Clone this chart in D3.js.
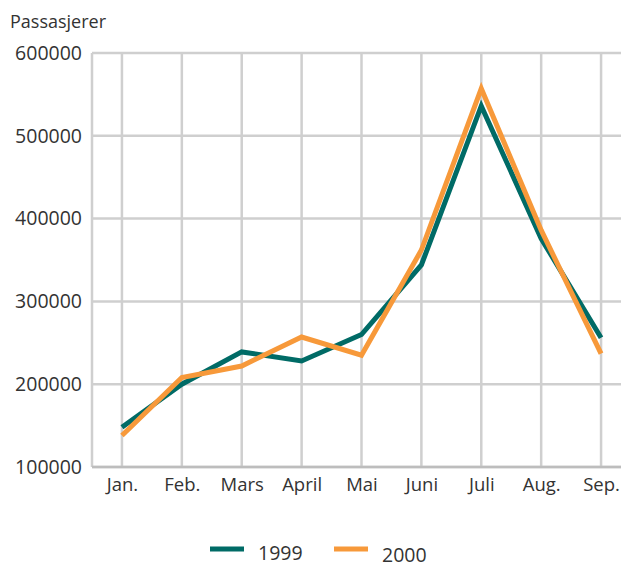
<!DOCTYPE html>
<html>
<head>
<meta charset="utf-8">
<script src="https://d3js.org/d3.v7.min.js"></script>
<style>
  body { margin: 0; background: #fff; }
  text { font-family: "Open Sans", sans-serif; fill: #333; }
</style>
</head>
<body>
<svg id="chart" width="621" height="568"></svg>
<script>
const months = ["Jan.", "Feb.", "Mars", "April", "Mai", "Juni", "Juli", "Aug.", "Sep."];
const y1999 = [148000, 200000, 239000, 228000, 260000, 344000, 536000, 376000, 256000];
const y2000 = [138000, 208000, 222000, 257000, 235000, 362000, 557000, 386000, 237000];
const yTicks = [100000, 200000, 300000, 400000, 500000, 600000];

const svg = d3.select("#chart");
const plotLeft = 92, plotRight = 631, plotTop = 53, plotBottom = 467;

const x = d3.scalePoint().domain(months).range([plotLeft, plotRight]).padding(0.5);
const y = d3.scaleLinear().domain([100000, 600000]).range([plotBottom, plotTop]);

// grid
svg.append("g")
  .selectAll("line")
  .data(yTicks)
  .enter()
  .append("line")
  .attr("x1", plotLeft).attr("x2", plotRight)
  .attr("y1", d => y(d)).attr("y2", d => y(d))
  .attr("stroke", "#cfcfcf").attr("stroke-width", 2.5);

svg.append("g")
  .selectAll("line")
  .data(months)
  .enter()
  .append("line")
  .attr("x1", d => x(d)).attr("x2", d => x(d))
  .attr("y1", plotTop).attr("y2", plotBottom)
  .attr("stroke", "#cfcfcf").attr("stroke-width", 2.5);

svg.append("line")
  .attr("x1", plotLeft).attr("x2", plotLeft)
  .attr("y1", plotTop).attr("y2", plotBottom)
  .attr("stroke", "#cfcfcf").attr("stroke-width", 2.5);

svg.append("line")
  .attr("x1", plotLeft).attr("x2", plotRight)
  .attr("y1", plotBottom).attr("y2", plotBottom)
  .attr("stroke", "#bdbdbd").attr("stroke-width", 2.5);

// axes
const yAxis = svg.append("g")
  .attr("transform", `translate(${plotLeft},0)`)
  .call(d3.axisLeft(y).tickValues(yTicks).tickFormat(d3.format("d")).tickSize(0).tickPadding(10));
yAxis.select(".domain").remove();
yAxis.selectAll("text").attr("font-size", 19.5).attr("font-family", "Open Sans").attr("fill", "#333");

const xAxis = svg.append("g")
  .attr("transform", `translate(0,${plotBottom})`)
  .call(d3.axisBottom(x).tickSize(0).tickPadding(11));
xAxis.select(".domain").remove();
xAxis.selectAll("text").attr("font-size", 18.5).attr("font-family", "Open Sans").attr("fill", "#333");

svg.append("text")
  .attr("x", 10).attr("y", 28)
  .attr("font-size", 18)
  .text("Passasjerer");

// lines
const line = d3.line().x((d, i) => x(months[i])).y(d => y(d));
const series = [
  { name: "1999", values: y1999, color: "#006b66" },
  { name: "2000", values: y2000, color: "#f7993a" }
];

series.forEach(s => {
  svg.append("path")
    .datum(s.values)
    .attr("d", line)
    .attr("fill", "none")
    .attr("stroke", s.color)
    .attr("stroke-width", 5)
    .attr("stroke-linejoin", "miter");
});

// legend
const legendPos = [{ lx: 210, ty: 560 }, { lx: 334, ty: 562 }];
series.forEach((s, i) => {
  const p = legendPos[i];
  svg.append("line")
    .attr("x1", p.lx).attr("x2", p.lx + 34)
    .attr("y1", 549).attr("y2", 549)
    .attr("stroke", s.color).attr("stroke-width", 5);
  svg.append("text")
    .attr("x", p.lx + 48).attr("y", p.ty)
    .attr("font-size", 19.5)
    .text(s.name);
});
</script>
</body>
</html>
